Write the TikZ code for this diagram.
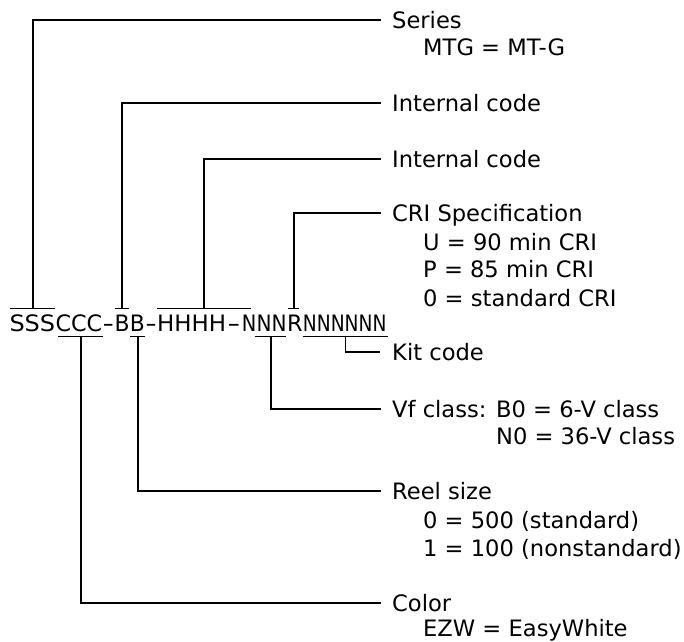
\documentclass[tikz,border=0pt]{standalone}
\usepackage{fontspec}
\setmainfont{DejaVu Sans}
\usetikzlibrary{calc}
\begin{document}
\begin{tikzpicture}[x=1pt,y=-1pt,
  txtfont/.style={font=\fontsize{22.6}{28}\selectfont},
  part/.style={txtfont, inner sep=0pt, anchor=base west, text height=16pt, text depth=0pt},
  dash part/.style={part, minimum width=#1},
  lbl/.style={txtfont, inner sep=0pt, anchor=west, text height=16pt, text depth=0pt},
  sub/.style={txtfont, inner sep=0pt, anchor=base west},
  wire/.style={draw=black, line width=1.9pt},
  bar/.style={draw=black, line width=1.9pt},
]
\useasboundingbox (0,0) rectangle (684,641);

% code string
\node[part] (s)  at (9.3,331) {\scalebox{1.062}[1]{SSS}};
\node[part] (c)  at (s.base east) {\scalebox{0.987}[1]{CCC}};
\node[dash part=10pt] (d1) at (c.base east) {\scalebox{1.4}[1]{-}};
\node[part] (b1) at (d1.base east) {\scalebox{0.968}[1]{B}};
\node[part] (b2) at (b1.base east) {\scalebox{0.968}[1]{B}};
\node[dash part=11pt] (d2) at (b2.base east) {\scalebox{1.4}[1]{-}};
\node[part] (h)  at (d2.base east) {\scalebox{1.015}[1]{HHHH}};
\node[dash part=14.8pt] (d3) at (h.base east) {\scalebox{1.6}[1]{-}};
\node[part] (n1) at (d3.base east) {\scalebox{0.858}[1]{N}};
\node[part] (n2) at (n1.base east) {\scalebox{0.887}[1]{NN}};
\node[part] (r)  at (n2.base east) {\scalebox{0.987}[1]{R}};
\node[part] (k)  at (r.base east) {\scalebox{0.823}[1]{NNNNNN}};

% labels
\node[lbl] (series) at (392,20)  {Series};
\node[sub] (mtg)    at (423,55)  {MTG = MT-G};
\node[lbl] (int1)   at (392,103) {Internal code};
\node[lbl] (int2)   at (392,159) {Internal code};
\node[lbl] (cri)    at (392,213) {CRI Specification};
\node[sub] (criu)   at (423,250) {U = 90 min CRI};
\node[sub] (crip)   at (423,277) {P = 85 min CRI};
\node[sub] (cri0)   at (423,306) {0 = standard CRI};
\node[lbl] (kit)    at (392,352) {Kit code};
\node[lbl] (vf)     at (392,409) {Vf class: B0 = 6-V class};
\node[sub] (vfn)    at (392,444) {\phantom{Vf class: }N0 = 36-V class};
\node[lbl] (reel)   at (392,491) {Reel size};
\node[sub] (reel0)  at (423,528) {0 = 500 (standard)};
\node[sub] (reel1)  at (423,556) {1 = 100 (nonstandard)};
\node[lbl] (color)  at (392,603) {Color};
\node[sub] (ezw)    at (423,636.5) {EZW = EasyWhite};

% over-bars
\coordinate (sL) at ([shift={(0.7,-22.5)}]s.base west);
\coordinate (sR) at ([shift={(0,-22.5)}]s.base east);
\coordinate (b1L) at ([shift={(0.3,-22.5)}]b1.base west);
\coordinate (b1R) at ([shift={(-0.7,-22.5)}]b1.base east);
\coordinate (hL) at ([shift={(0.3,-22.5)}]h.base west);
\coordinate (hR) at ([shift={(24.3,-22.5)}]h.base east);
\coordinate (rL) at ([shift={(1,-22.5)}]r.base west);
\coordinate (rR) at ([shift={(-3.5,-22.5)}]r.base east);
% under-bars
\coordinate (cL) at ([shift={(3,5.5)}]c.base west);
\coordinate (cR) at ([shift={(0.3,5.5)}]c.base east);
\coordinate (b2L) at ([shift={(0.3,5.5)}]b2.base west);
\coordinate (b2R) at ([shift={(0.3,5.5)}]b2.base east);
\coordinate (n2L) at ([shift={(-1,5.5)}]n2.base west);
\coordinate (n2R) at ([shift={(-1,5.5)}]n2.base east);
\coordinate (kL) at ([shift={(0.5,5.5)}]k.base west);
\coordinate (kR) at ([shift={(1,5.5)}]k.base east);

\foreach \g in {s,b1,h,r,c,b2,n2,k}{
  \draw[bar] (\g L) -- (\g R);
  \coordinate (\g M) at ($(\g L)!0.5!(\g R)$);
}

% connectors
\draw[wire] (sM)  |- ([xshift=-11pt]series.west);
\draw[wire] (b1M) |- ([xshift=-11pt]int1.west);
\draw[wire] (hM)  |- ([xshift=-11pt]int2.west);
\draw[wire] (rM)  |- ([xshift=-11pt]cri.west);
\draw[wire] (kM)  |- ([xshift=-12pt]kit.west);
\draw[wire] (n2M) |- ([xshift=-11pt]vf.west);
\draw[wire] (b2M) |- ([xshift=-11pt]reel.west);
\draw[wire] (cM)  |- ([xshift=-11pt]color.west);
\end{tikzpicture}
\end{document}
